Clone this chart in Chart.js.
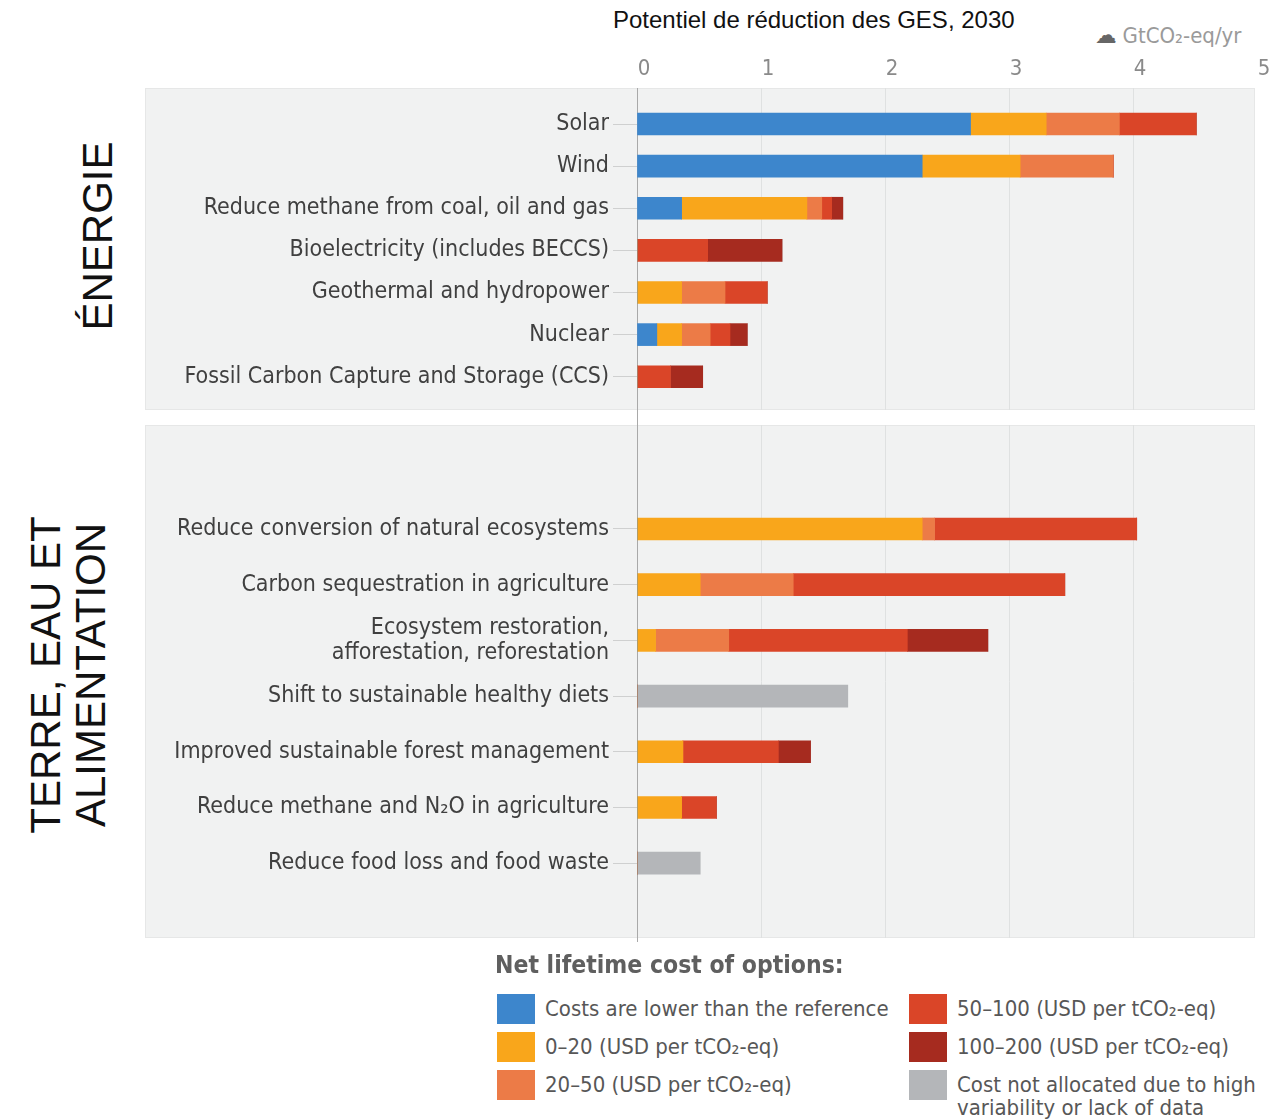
<!DOCTYPE html>
<html>
<head>
<meta charset="utf-8">
<script src="https://cdn.jsdelivr.net/npm/chart.js@4"></script>
<style>
  body { margin: 0; width: 1273px; height: 1119px; background: #fff; position: relative; overflow: hidden;
         font-family: "DejaVu Sans Condensed", "DejaVu Sans", sans-serif; font-stretch: condensed; }
  .abs { position: absolute; }
  .panel { position: absolute; left: 145px; width: 1110px; background: #f1f2f2; border: 1px solid #e6e7e7; box-sizing: border-box; }
  .side { position: absolute; font-family: "Liberation Sans", Arial, sans-serif; font-stretch: normal; font-size: 42px; color: #111;
          white-space: nowrap; text-align: center; line-height: 45px; transform: translate(-50%, -50%) rotate(-90deg); }
  #legend { position: absolute; left: 497px; top: 994px; display: grid; grid-auto-flow: column;
            grid-template-rows: repeat(3, 38px); grid-template-columns: 412px 330px; }
  .item { display: flex; align-items: flex-start; font-size: 22px; color: #575757; }
  .box { width: 38px; height: 30px; margin-right: 10px; flex: none; }
  .item span { line-height: 30px; white-space: nowrap; }
  .item span.two { line-height: 23px; padding-top: 3px; }
</style>
</head>
<body>
<div class="panel" style="top:88px;height:322px"></div>
<div class="panel" style="top:425px;height:513px"></div>
<!-- zero line carried across the gap between the two panels -->
<div class="abs" style="left:637px;top:409px;width:1px;height:533px;background:#a9a9a9"></div>

<div class="abs" style="left:613px;top:6px;font-family:'Liberation Sans',Arial,sans-serif;font-stretch:normal;font-size:24px;color:#111">Potentiel de réduction des GES, 2030</div>
<div class="abs" style="left:1095px;top:21px;font-size:22px;color:#9a9a9a;white-space:nowrap"><span style="color:#666;font-size:24px;margin-right:6px">☁</span>GtCO₂-eq/yr</div>

<div class="side" style="left:97px;top:236px">ÉNERGIE</div>
<div class="side" style="left:68px;top:675px">TERRE, EAU ET<br>ALIMENTATION</div>

<div class="abs" style="left:145px;top:0;width:1128px;height:430px"><canvas id="energy"></canvas></div>
<div class="abs" style="left:145px;top:405px;width:1128px;height:553px"><canvas id="land"></canvas></div>

<div class="abs" style="left:495px;top:950px;font-size:24.5px;font-weight:bold;color:#5f5f5f">Net lifetime cost of options:</div>
<div id="legend"></div>

<script>
const energyCategories = [
  "Solar",
  "Wind",
  "Reduce methane from coal, oil and gas",
  "Bioelectricity (includes BECCS)",
  "Geothermal and hydropower",
  "Nuclear",
  "Fossil Carbon Capture and Storage (CCS)",
];
const landCategories = [
  "Reduce conversion of natural ecosystems",
  "Carbon sequestration in agriculture",
  ["Ecosystem restoration,", "afforestation, reforestation"],
  "Shift to sustainable healthy diets",
  "Improved sustainable forest management",
  "Reduce methane and N₂O in agriculture",
  "Reduce food loss and food waste",
];

const seriesNames = [
  "Costs are lower than the reference",
  "0–20 (USD per tCO₂-eq)",
  "20–50 (USD per tCO₂-eq)",
  "50–100 (USD per tCO₂-eq)",
  "100–200 (USD per tCO₂-eq)",
  ["Cost not allocated due to high", "variability or lack of data"],
];

// GtCO2-eq/yr, one value per category
const energyLower = [2.69, 2.30, 0.36, 0, 0, 0.16, 0];
const energy0to20 = [0.61, 0.79, 1.01, 0, 0.36, 0.20, 0];
const energy20to50 = [0.59, 0.75, 0.12, 0, 0.35, 0.23, 0];
const energy50to100 = [0.62, 0, 0.08, 0.57, 0.34, 0.16, 0.27];
const energy100to200 = [0, 0, 0.09, 0.60, 0, 0.14, 0.26];
const energyNotAllocated = [0, 0, 0, 0, 0, 0, 0];

const landLower = [0, 0, 0, 0, 0, 0, 0];
const land0to20 = [2.30, 0.51, 0.15, 0, 0.37, 0.36, 0];
const land20to50 = [0.10, 0.75, 0.59, 0, 0, 0, 0];
const land50to100 = [1.63, 2.19, 1.44, 0, 0.77, 0.28, 0];
const land100to200 = [0, 0, 0.65, 0, 0.26, 0, 0];
const landNotAllocated = [0, 0, 0, 1.70, 0, 0, 0.51];

const xTicks = [0, 1, 2, 3, 4, 5];

const colors = ["#3d86cc", "#f9a61b", "#ec7b47", "#da4528", "#a62b1f", "#b4b6b9"];
const narrow = '"DejaVu Sans Condensed", "DejaVu Sans", sans-serif';

function makeChart(id, categories, series, opts) {
  new Chart(document.getElementById(id), {
    type: "bar",
    data: {
      datasets: series.map((values, s) => ({
        label: Array.isArray(seriesNames[s]) ? seriesNames[s].join(" ") : seriesNames[s],
        data: values.map((v, i) => ({ x: v, y: i })),
        backgroundColor: colors[s],
        borderWidth: 0,
        barThickness: 22,
      })),
    },
    options: {
      indexAxis: "y",
      responsive: true,
      maintainAspectRatio: false,
      animation: false,
      layout: { padding: { left: 0, right: 16, top: opts.padTop, bottom: opts.padBottom } },
      plugins: { legend: { display: false }, tooltip: { enabled: true } },
      scales: {
        x: {
          type: "linear",
          position: "top",
          stacked: true,
          min: 0,
          max: 5,
          afterBuildTicks: (s) => { s.ticks = xTicks.map((v) => ({ value: v })); },
          afterFit: (s) => { s.height = opts.axisHeight; },
          border: { display: false },
          grid: {
            drawTicks: false,
            color: (c) => (c.tick && (c.tick.value === 0 || c.tick.value === 5) ? "rgba(0,0,0,0)" : "#dfe1e1"),
          },
          ticks: {
            display: opts.showTicks,
            padding: 6,
            labelOffset: 7,
            color: "#8a8a8a",
            font: { family: narrow, size: 22 },
          },
        },
        y: {
          type: "linear",
          reverse: true,
          stacked: true,
          offset: false,
          bounds: "data",
          min: opts.yMin,
          max: opts.yMax,
          afterBuildTicks: (s) => { s.ticks = categories.map((_, i) => ({ value: i })); },
          afterFit: (s) => { s.width = 492; },
          border: { display: true, color: "#a9a9a9", width: 1 },
          grid: { offset: false, drawOnChartArea: false, drawTicks: true, tickLength: 24, tickColor: "#cfd0d0" },
          ticks: {
            padding: 4,
            color: "#404040",
            font: { family: narrow, size: 23, lineHeight: 1.08 },
            callback: (v) => categories[v],
          },
        },
      },
    },
  });
}

makeChart("energy", energyCategories,
  [energyLower, energy0to20, energy20to50, energy50to100, energy100to200, energyNotAllocated],
  { padTop: 0, padBottom: 20, axisHeight: 88, showTicks: true, yMin: -0.855, yMax: 6.79 });

makeChart("land", landCategories,
  [landLower, land0to20, land20to50, land50to100, land100to200, landNotAllocated],
  { padTop: 20, padBottom: 20, axisHeight: 0, showTicks: false, yMin: -1.867, yMax: 7.343 });

// legend, built from the series names and colours
const legend = document.getElementById("legend");
seriesNames.forEach((name, s) => {
  const item = document.createElement("div");
  item.className = "item";
  const box = document.createElement("div");
  box.className = "box";
  box.style.background = colors[s];
  const text = document.createElement("span");
  if (Array.isArray(name)) {
    text.className = "two";
    text.innerHTML = name.join("<br>");
  } else {
    text.textContent = name;
  }
  item.appendChild(box);
  item.appendChild(text);
  legend.appendChild(item);
});
</script>
</body>
</html>
